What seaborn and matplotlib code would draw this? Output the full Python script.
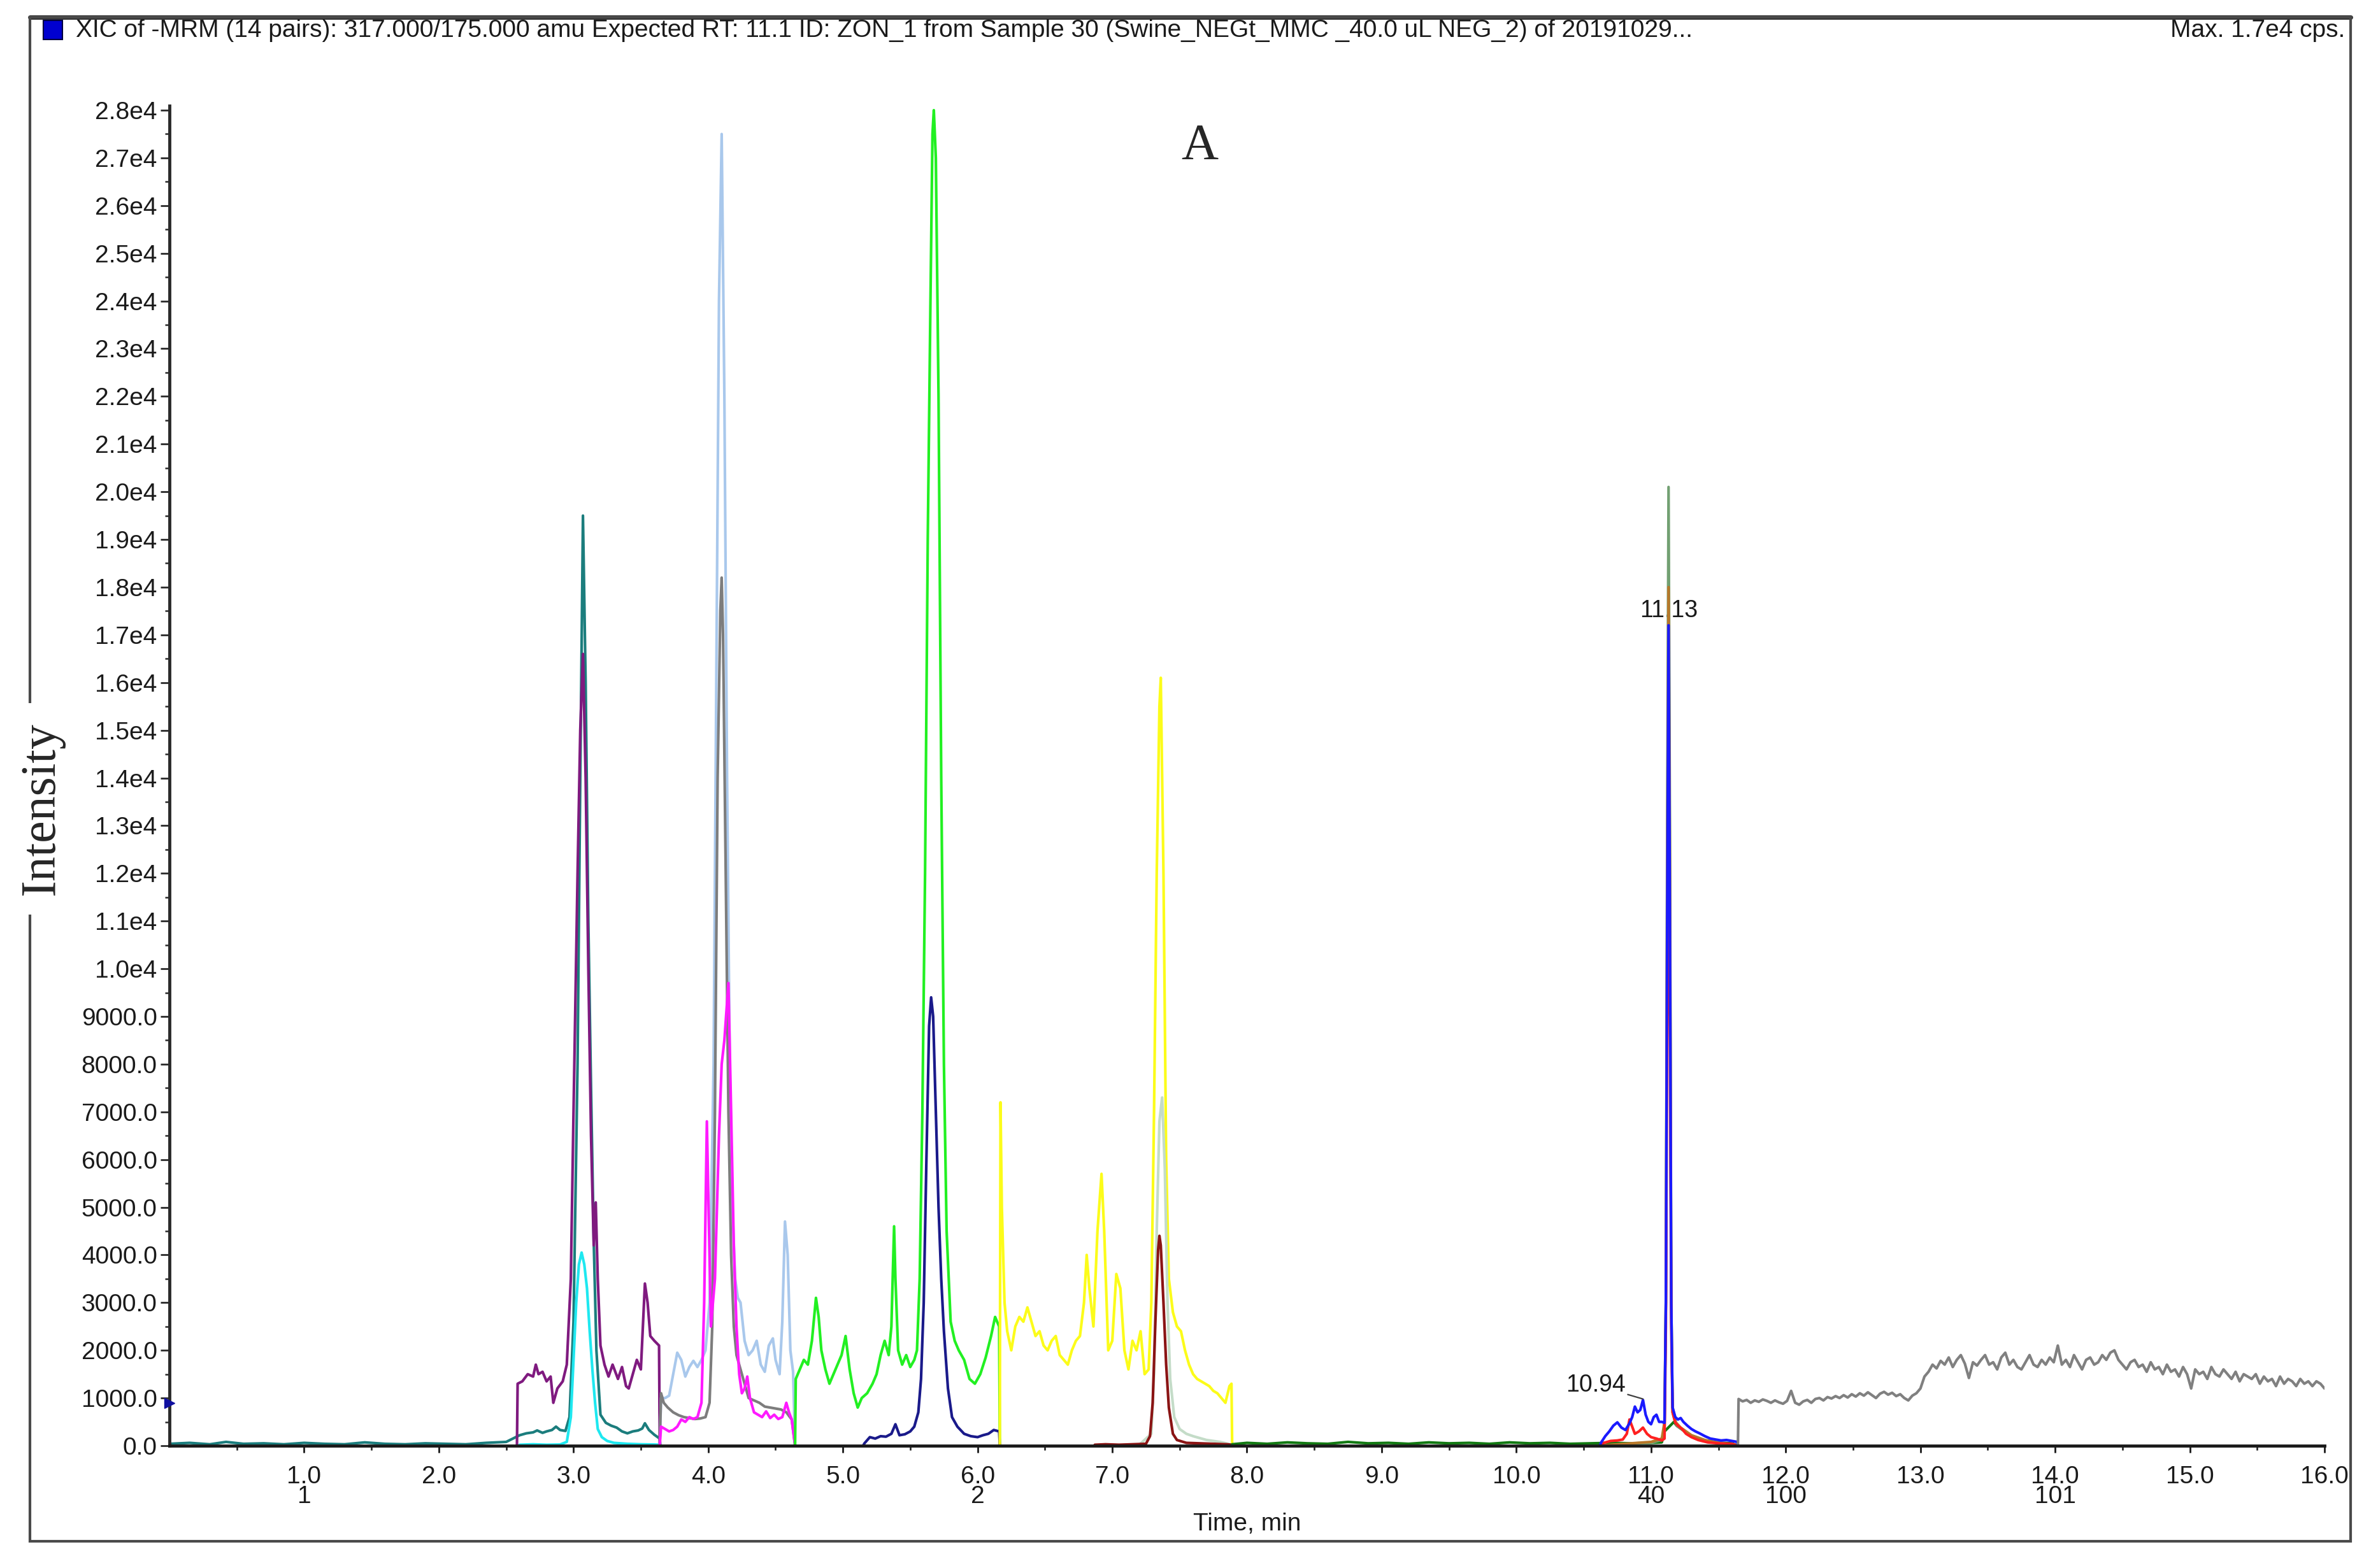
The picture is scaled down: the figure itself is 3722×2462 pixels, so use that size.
import numpy as np
import pandas as pd
import matplotlib
matplotlib.use("Agg")
import matplotlib.pyplot as plt
import seaborn as sns
from matplotlib.patches import Rectangle
from matplotlib.lines import Line2D

# ---------------- data ----------------
TEAL_T = [0.00,0.15,0.3,0.42,0.55,0.7,0.85,1.0,1.15,1.3,1.45,1.6,1.75,1.9,2.05,2.2,2.35,2.5,2.55,2.6,2.65,2.7,2.73,2.77,2.8,2.84,2.87,2.9,2.94,2.97,3.0,3.03,3.05,3.07,3.09,3.11,3.13,3.15,3.17,3.2,3.24,3.28,3.32,3.36,3.4,3.44,3.48,3.51,3.53,3.56,3.6,3.64,3.645]
TEAL_V = [40,60,30,80,40,50,30,60,40,30,70,40,30,50,40,30,60,80,150,220,260,280,320,270,300,330,400,330,310,600,2600,8000,14000,19500,16000,11000,7500,4300,2000,650,480,420,380,300,260,300,320,360,470,330,230,150,0]

PURPLE_T = [2.58,2.585,2.62,2.66,2.7,2.72,2.74,2.77,2.8,2.83,2.85,2.88,2.92,2.95,2.98,3.0,3.03,3.05,3.07,3.09,3.11,3.13,3.15,3.165,3.18,3.2,3.23,3.26,3.29,3.33,3.36,3.39,3.41,3.44,3.47,3.5,3.53,3.55,3.57,3.6,3.635,3.64]
PURPLE_V = [0,1300,1350,1500,1450,1700,1500,1550,1350,1450,900,1200,1350,1700,3500,7000,12000,15000,16600,14000,10000,6500,4200,5100,3500,2100,1700,1450,1700,1400,1650,1250,1200,1500,1800,1600,3400,3000,2300,2200,2100,0]

CYAN_T = [2.6,2.7,2.8,2.9,2.95,2.98,3.0,3.02,3.04,3.06,3.08,3.1,3.12,3.14,3.16,3.18,3.21,3.25,3.3,3.4,3.5,3.6,3.64]
CYAN_V = [20,30,20,25,80,600,1800,3000,3800,4050,3800,3300,2400,1600,900,350,180,100,60,40,30,25,20]

LTBLUE_T = [3.64,3.65,3.68,3.71,3.74,3.77,3.8,3.83,3.86,3.89,3.92,3.95,3.98,4.01,4.04,4.06,4.08,4.1,4.12,4.14,4.16,4.18,4.2,4.22,4.24,4.27,4.3,4.33,4.36,4.39,4.42,4.45,4.48,4.5,4.53,4.55,4.57,4.59,4.61,4.63,4.645]
LTBLUE_V = [0,1000,1000,1050,1500,1950,1800,1450,1650,1780,1650,1800,2000,3000,8000,16000,24000,27500,22000,14000,8000,5000,3500,3100,3000,2200,1900,2000,2200,1700,1550,2100,2250,1800,1500,2600,4700,4000,2000,1550,0]

GRAY_T = [3.64,3.65,3.67,3.7,3.74,3.78,3.82,3.86,3.9,3.94,3.98,4.01,4.03,4.05,4.07,4.09,4.1,4.11,4.13,4.15,4.17,4.19,4.21,4.24,4.27,4.3,4.34,4.38,4.42,4.46,4.5,4.54,4.58,4.62,4.645]
GRAY_V = [0,1100,900,800,700,640,600,580,560,570,600,900,2500,7000,14000,17500,18200,17000,12000,7000,4000,2500,1900,1600,1300,1000,950,900,820,800,780,760,700,550,0]

MAGENTA_T = [3.64,3.65,3.68,3.71,3.74,3.77,3.8,3.83,3.86,3.89,3.92,3.95,3.97,3.99,4.02,4.05,4.08,4.1,4.12,4.15,4.17,4.19,4.21,4.23,4.25,4.27,4.29,4.31,4.34,4.37,4.4,4.43,4.46,4.49,4.52,4.55,4.58,4.6,4.62,4.645]
MAGENTA_V = [0,400,350,300,330,400,550,500,600,560,600,900,3000,6800,2500,3500,6500,8000,8500,9700,7000,4200,2500,1500,1100,1200,1450,1000,700,650,600,720,580,650,560,600,900,700,550,0]

GREEN_T = [4.645,4.65,4.68,4.71,4.74,4.77,4.8,4.82,4.84,4.87,4.9,4.93,4.96,4.99,5.02,5.05,5.08,5.11,5.14,5.18,5.22,5.25,5.28,5.31,5.34,5.36,5.38,5.39,5.41,5.44,5.47,5.5,5.53,5.55,5.57,5.59,5.61,5.63,5.65,5.665,5.675,5.69,5.71,5.73,5.75,5.77,5.8,5.83,5.86,5.9,5.94,5.98,6.02,6.06,6.1,6.13,6.16,6.165]
GREEN_V = [0,1400,1600,1800,1700,2200,3100,2700,2000,1600,1300,1500,1700,1900,2300,1600,1100,800,1000,1100,1300,1500,1900,2200,1900,2500,4600,3500,2000,1700,1900,1650,1800,2000,3500,7000,12000,19000,24000,27500,28000,27000,22000,14000,8000,4500,2600,2200,2000,1800,1400,1300,1500,1850,2300,2700,2500,0]

NAVY_T = [5.15,5.16,5.2,5.24,5.28,5.32,5.36,5.39,5.42,5.46,5.5,5.53,5.56,5.58,5.6,5.62,5.64,5.655,5.67,5.69,5.71,5.73,5.75,5.78,5.81,5.85,5.9,5.95,6.0,6.04,6.08,6.12,6.16,6.165]
NAVY_V = [0,50,180,150,200,190,250,450,220,240,300,400,700,1400,3000,6000,8800,9400,9000,7000,5000,3500,2400,1200,600,400,250,200,180,220,250,330,300,0]

YELLOW_T = [6.165,6.17,6.18,6.2,6.22,6.25,6.28,6.31,6.34,6.37,6.4,6.43,6.46,6.49,6.52,6.55,6.58,6.61,6.64,6.67,6.7,6.73,6.76,6.79,6.81,6.83,6.86,6.89,6.92,6.94,6.97,7.0,7.03,7.06,7.09,7.12,7.15,7.18,7.21,7.24,7.27,7.29,7.31,7.33,7.35,7.36,7.38,7.4,7.42,7.45,7.48,7.51,7.54,7.57,7.6,7.63,7.66,7.69,7.72,7.75,7.78,7.81,7.84,7.87,7.885,7.89]
YELLOW_V = [0,7200,5000,3000,2400,2000,2500,2700,2600,2900,2600,2300,2400,2100,2000,2200,2300,1900,1800,1700,2000,2200,2300,3000,4000,3300,2500,4500,5700,4500,2000,2200,3600,3300,2000,1600,2200,2000,2400,1500,1600,3000,7000,12000,15500,16100,12000,6000,3500,2800,2500,2400,2000,1700,1500,1400,1350,1300,1250,1150,1100,1000,900,1250,1300,0]

DARKRED_T = [6.87,6.95,7.05,7.15,7.25,7.28,7.3,7.32,7.34,7.35,7.36,7.38,7.4,7.42,7.45,7.48,7.55,7.65,7.75,7.85,7.89]
DARKRED_V = [20,30,20,30,40,200,900,2600,4100,4400,4200,3000,1700,800,250,120,60,50,40,30,20]

SAGE_T = [6.87,7.0,7.2,7.29,7.31,7.33,7.35,7.37,7.39,7.41,7.43,7.46,7.5,7.55,7.6,7.7,7.8,7.89]
SAGE_V = [10,15,20,250,1500,4500,6800,7300,5800,3000,1400,600,350,250,200,120,80,20]

DKGREEN_T = [7.89,8.0,8.15,8.3,8.45,8.6,8.75,8.9,9.05,9.2,9.35,9.5,9.65,9.8,9.95,10.1,10.25,10.4,10.55,10.7,10.85,11.0,11.08,11.1,11.17,11.19,11.25,11.3,11.4,11.5,11.6,11.645]
DKGREEN_V = [30,60,40,70,50,40,80,50,60,40,70,50,60,40,70,50,60,40,50,60,50,60,70,300,500,420,300,200,110,65,50,0]

PEAKGREEN_T = [10.62,10.8,11.0,11.08,11.1,11.11,11.12,11.13,11.14,11.15,11.16,11.19,11.25,11.3,11.4,11.5,11.645]
PEAKGREEN_V = [0,30,60,120,400,3000,13000,20100,13000,3000,800,420,300,200,110,65,0]

OLIVE_T = [10.62,10.8,11.0,11.08,11.1,11.11,11.12,11.13,11.14,11.15,11.16,11.18,11.22,11.3,11.4,11.5,11.645]
OLIVE_V = [0,40,80,150,500,3000,12000,18000,12000,3000,700,500,380,220,120,60,0]

RED_T = [10.62,10.65,10.7,10.75,10.79,10.82,10.84,10.86,10.88,10.91,10.94,10.97,11.0,11.04,11.08,11.1,11.11,11.12,11.13,11.14,11.15,11.16,11.18,11.2,11.23,11.26,11.3,11.35,11.42,11.5,11.6,11.645]
RED_V = [0,60,100,110,130,250,550,400,250,300,380,250,180,150,110,150,2500,9000,13500,9000,2500,700,480,420,350,250,180,120,70,50,40,0]

BLUE_T = [10.62,10.63,10.66,10.69,10.72,10.75,10.78,10.81,10.84,10.86,10.88,10.9,10.92,10.94,10.96,10.98,11.0,11.02,11.04,11.06,11.08,11.1,11.11,11.12,11.13,11.14,11.15,11.16,11.18,11.2,11.22,11.24,11.27,11.3,11.33,11.36,11.4,11.44,11.48,11.52,11.56,11.6,11.64,11.645]
BLUE_V = [0,70,200,300,420,490,380,330,470,600,820,700,750,960,650,500,450,600,650,500,500,480,3000,11000,17200,11000,3000,800,600,550,580,500,420,350,300,260,200,150,130,110,120,100,80,0]

GRAY2_START = 11.645
GRAY2_END = 16.0
GRAY2_V = [0,
           980,930,960,900,950,920,970,940,900,950,910,880,940,
           1150,900,860,930,960,900,980,1000,950,1020,990,1040,1000,1060,1010,
           1080,1030,1100,1050,1120,1060,1000,1090,1130,1070,1110,1040,1080,1000,950,
           1050,1100,1200,1450,1550,1700,1620,1780,
           1700,1850,1650,1800,1900,1720,1420,1750,1680,1800,
           1900,1700,1750,1600,1850,1950,1700,1800,1650,1600,1750,1900,1700,1650,1800,1700,1850,
           1750,2100,1700,1800,1650,1900,1750,1600,1800,1850,1700,1750,1900,1800,1950,2000,1800,
           1700,1600,1750,1800,1650,1700,1550,1750,1600,1650,1500,1700,1550,1600,1450,1650,1500,
           1200,1600,1500,1550,1400,1650,1500,1450,1600,1500,1400,1550,1350,1500,1450,1400,1500,
           1300,1450,1350,1400,1250,1450,1300,1400,1350,1250,1400,1300,1350,1250,1350,1300,1200]

Y_TICKS = list(range(0, 28001, 1000))
Y_TICK_LABELS = ["0.0", "1000.0", "2000.0", "3000.0", "4000.0", "5000.0", "6000.0", "7000.0",
                 "8000.0", "9000.0", "1.0e4", "1.1e4", "1.2e4", "1.3e4", "1.4e4", "1.5e4",
                 "1.6e4", "1.7e4", "1.8e4", "1.9e4", "2.0e4", "2.1e4", "2.2e4", "2.3e4",
                 "2.4e4", "2.5e4", "2.6e4", "2.7e4", "2.8e4"]
X_TICKS = [1, 2, 3, 4, 5, 6, 7, 8, 9, 10, 11, 12, 13, 14, 15, 16]
X_TICK_LABELS = ["1.0", "2.0", "3.0", "4.0", "5.0", "6.0", "7.0", "8.0", "9.0", "10.0",
                 "11.0", "12.0", "13.0", "14.0", "15.0", "16.0"]
CYCLE_POS = [1, 6, 11, 12, 14]
CYCLE_LABELS = ["1", "2", "40", "100", "101"]

# ---------------- assemble long-form table ----------------
series = [
    ("teal", TEAL_T, TEAL_V, "#1b7d7d"),
    ("purple", PURPLE_T, PURPLE_V, "#7f1a7f"),
    ("cyan", CYAN_T, CYAN_V, "#1ee8f0"),
    ("lightblue", LTBLUE_T, LTBLUE_V, "#a9c8ec"),
    ("gray", GRAY_T, GRAY_V, "#7d7d7d"),
    ("magenta", MAGENTA_T, MAGENTA_V, "#ff1aff"),
    ("green", GREEN_T, GREEN_V, "#22f022"),
    ("navy", NAVY_T, NAVY_V, "#1a1a8a"),
    ("yellow", YELLOW_T, YELLOW_V, "#fcfc1a"),
    ("sage", SAGE_T, SAGE_V, "#c4dcc8"),
    ("darkred", DARKRED_T, DARKRED_V, "#8a1414"),
    ("darkgreen", DKGREEN_T, DKGREEN_V, "#137a13"),
    ("peakgreen", PEAKGREEN_T, PEAKGREEN_V, "#72a072"),
    ("olive", OLIVE_T, OLIVE_V, "#b8782a"),
    ("red", RED_T, RED_V, "#ff2020"),
    ("blue", BLUE_T, BLUE_V, "#1a1aff"),
]
gray2_t = [GRAY2_START] + list(np.linspace(11.65, GRAY2_END, len(GRAY2_V) - 1))
series.append(("gray2", gray2_t, GRAY2_V, "#808080"))

frames = []
for name, t, v, _ in series:
    frames.append(pd.DataFrame({"time": t, "intensity": v, "trace": name}))
df = pd.concat(frames, ignore_index=True)
palette = {name: c for name, _, _, c in series}
order = [name for name, _, _, _ in series]

# ---------------- figure ----------------
sns.set_theme(style="white")
plt.rcParams["font.family"] = ["Liberation Sans", "DejaVu Sans"]

W, H = 3723, 2462
fig = plt.figure(figsize=(W / 100, H / 100), dpi=100)
ax_left = 266 / W
ax_w = (3649 - 266) / W
ax_bottom = 1 - 2270 / H
ymax = 28100
ax_h = (2270 - 173) / H * ymax / 28000
ax = fig.add_axes([ax_left, ax_bottom, ax_w, ax_h])

sns.lineplot(data=df, x="time", y="intensity", hue="trace", hue_order=order,
             palette=palette, estimator=None, sort=False, legend=False,
             linewidth=3.0, ax=ax)

ax.set_xlim(0, 16)
ax.set_ylim(0, ymax)
for s in ["top", "right"]:
    ax.spines[s].set_visible(False)
ax.spines["left"].set_linewidth(3.5)
ax.spines["left"].set_color("#2a2a2a")
ax.spines["bottom"].set_linewidth(3.5)
ax.spines["bottom"].set_color("#1a1a1a")
ax.set_facecolor("white")

ax.set_yticks(Y_TICKS)
ax.set_yticklabels(Y_TICK_LABELS)
ax.set_yticks(list(range(500, 28000, 1000)), minor=True)
ax.set_xticks(X_TICKS)
ax.set_xticklabels(X_TICK_LABELS)
ax.set_xticks([0.5 + i for i in range(16)], minor=True)

ax.tick_params(axis="y", which="major", direction="out", length=10, width=2,
               color="#2a2a2a", pad=4, labelsize=28, labelcolor="#1a1a1a", left=True)
ax.tick_params(axis="y", which="minor", direction="out", length=5, width=1.8,
               color="#2a2a2a", left=True)
ax.tick_params(axis="x", which="major", direction="out", length=8, width=2,
               color="#1a1a1a", pad=14, labelsize=28, labelcolor="#1a1a1a", bottom=True)
ax.tick_params(axis="x", which="minor", direction="out", length=5, width=1.8,
               color="#1a1a1a", bottom=True)
ax.set_xlabel("Time, min", fontsize=28, color="#1a1a1a")
ax.xaxis.set_label_coords(0.5, -0.0585)
ax.xaxis.label.set_verticalalignment("center")
ax.set_ylabel("")
ax.grid(False)

xtr = ax.get_xaxis_transform()
for p, lab in zip(CYCLE_POS, CYCLE_LABELS):
    ax.text(p, -0.038, lab, transform=xtr, ha="center", va="center",
            fontsize=28, color="#1a1a1a", clip_on=False)

# peak annotations
ax.text(11.13, 17500, "11.13", ha="center", va="center", fontsize=27,
        color="#1a1a1a", zorder=1)
ax.annotate("10.94", xy=(10.94, 980), xytext=(10.59, 1270), ha="center", va="center",
            fontsize=27, color="#1a1a1a",
            arrowprops=dict(arrowstyle="-", color="#404040", lw=1.6,
                            shrinkA=0, shrinkB=0))
ax.plot([0], [900], marker=">", markersize=12, color="#1010a0", clip_on=False,
        zorder=5)

# panel letter
fig.text(1883 / W, 1 - 230 / H, "A", fontsize=58,
         family=["Liberation Serif", "DejaVu Serif"], ha="center", va="center")

# outer frame
fig.patches.append(Rectangle((47 / W, 1 - 2420 / H), (3690 - 47) / W, (2420 - 27) / H,
                             transform=fig.transFigure, fill=False, lw=3,
                             edgecolor="#4a4a4a", zorder=1))
fig.add_artist(Line2D([47 / W, 3690 / W], [1 - 27 / H, 1 - 27 / H],
                      transform=fig.transFigure, lw=5, color="#333333", zorder=1))

# y-axis title breaking the frame
fig.text(66 / W, 1 - 1270 / H, "Intensity", rotation=90, fontsize=56,
         family=["Liberation Serif", "DejaVu Serif"], ha="center", va="center",
         bbox=dict(facecolor="white", edgecolor="none", pad=22), zorder=4)

# header
fig.patches.append(Rectangle((68 / W, 1 - 62 / H), 30 / W, 30 / H,
                             transform=fig.transFigure, facecolor="#0000d0",
                             edgecolor="#000040", lw=1.5, zorder=2))
fig.text(119 / W, 1 - 48 / H,
         "XIC of -MRM (14 pairs): 317.000/175.000 amu Expected RT: 11.1 ID: ZON_1 from Sample 30 (Swine_NEGt_MMC _40.0 uL NEG_2) of 20191029...",
         fontsize=28, ha="left", va="center", color="#1a1a1a")
fig.text(3681 / W, 1 - 48 / H, "Max. 1.7e4 cps.", fontsize=28, ha="right",
         va="center", color="#1a1a1a")

fig.savefig("out.png", dpi=100, facecolor="white")
